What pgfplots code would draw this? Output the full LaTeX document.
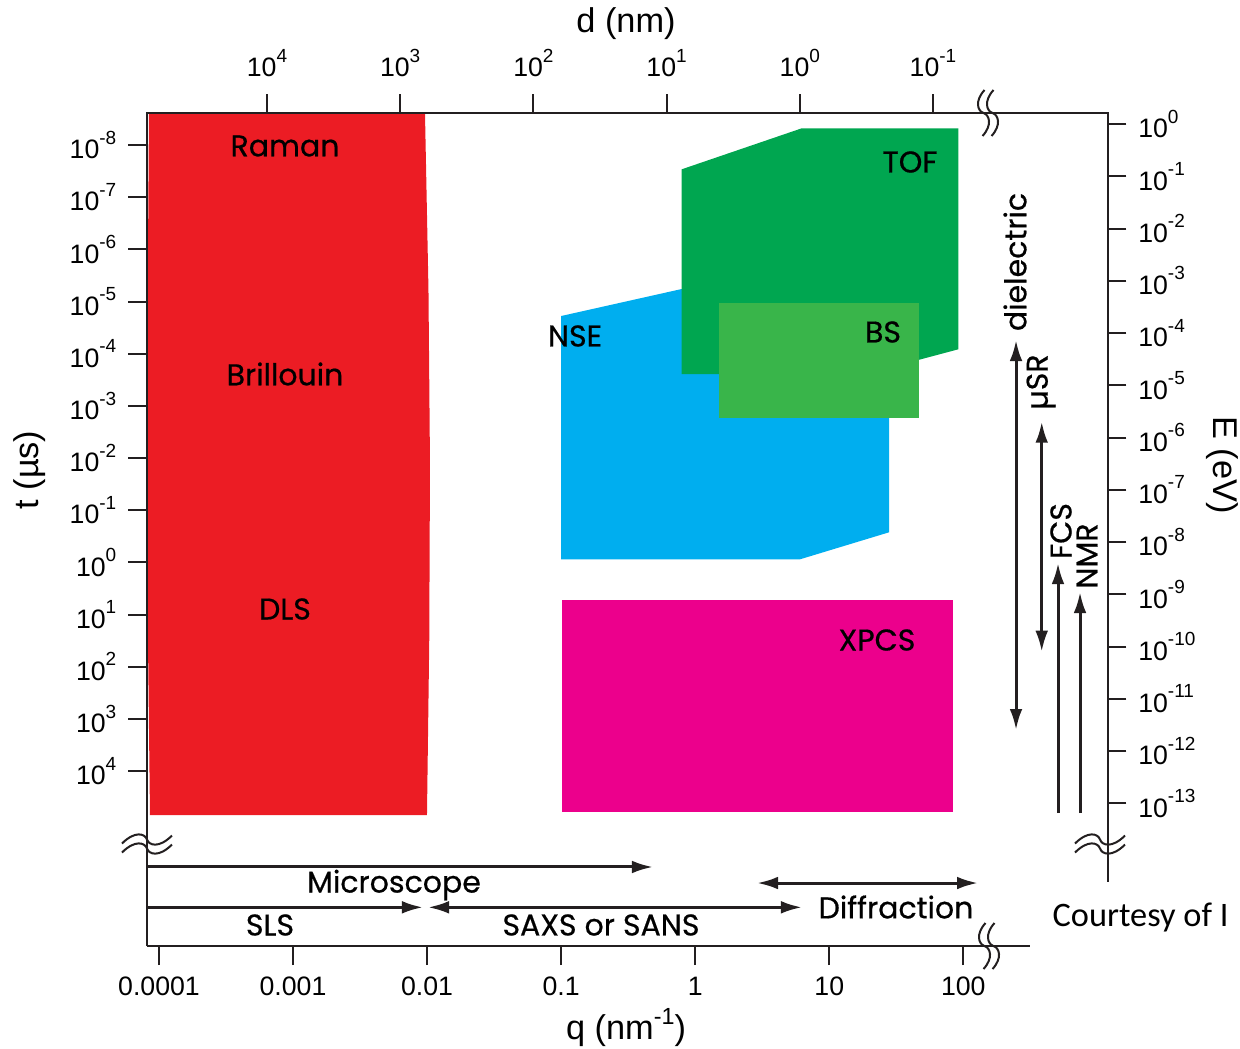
\documentclass[border=0pt]{standalone}
\usepackage{pgfplots}
\pgfplotsset{compat=1.18}
\usetikzlibrary{arrows.meta}
\usepackage{fontspec}
\setmainfont{Liberation Sans}
\newfontfamily\comic{Poppins}[FakeBold=0.6]
\newfontfamily\calib{Carlito}
\definecolor{redR}{HTML}{EC1C24}
\definecolor{tofG}{HTML}{00A650}
\definecolor{bsG}{HTML}{39B54A}
\definecolor{nseB}{HTML}{00AEEF}
\definecolor{xpcsM}{HTML}{EC008C}
\definecolor{ink}{HTML}{231F20}
\newcommand{\tl}[1]{10\raisebox{4.4pt}{\fontsize{5.7}{6.5}\selectfont #1}}
\newcommand{\tfont}{\fontsize{8}{9.5}\selectfont}
\newcommand{\lfont}{\fontsize{10.3}{12}\selectfont}
\newcommand{\cfont}{\fontsize{9}{11}\selectfont\comic}
\tikzset{arr/.style={ink, line width=0.9pt, -{Latex[length=6.3pt,width=3.8pt]}},
         darr/.style={ink, line width=0.9pt, {Latex[length=6.3pt,width=3.8pt]}-{Latex[length=6.3pt,width=3.8pt]}}}
\begin{document}
\begin{tikzpicture}
\useasboundingbox (-44.1pt,-30.6pt) rectangle (327.9pt,283.8pt);
% main axis: q (bottom), t (left)
\begin{axis}[
  at={(0,0)}, anchor=south west, scale only axis,
  width=288.15pt, height=249.9pt,
  xmode=log, ymode=log, y dir=reverse,
  xmin=8.14e-5, xmax=1190, ymin=2.435e-9, ymax=2.257e7,
  axis line style={draw=none},
  xtick={1e-4,1e-3,1e-2,1e-1,1,10,100},
  xticklabels={0.0001,0.001,0.01,0.1,1,10,100},
  ytick={1e-8,1e-7,1e-6,1e-5,1e-4,1e-3,1e-2,1e-1,1,10,100,1000,10000},
  yticklabels={\tl{-8},\tl{-7},\tl{-6},\tl{-5},\tl{-4},\tl{-3},\tl{-2},\tl{-1},\tl{0},\tl{1},\tl{2},\tl{3},\tl{4}},
  xtick pos=left, ytick pos=left,
  xminorticks=false, yminorticks=false,
  tick align=outside, major tick length=5.7pt,
  tick style={color=ink, line width=0.6pt},
  tick label style={font=\tfont},
  clip=false,
]
% NSE
\addplot[fill=nseB, draw=none] coordinates {(0.1,1.895e-5) (0.7931,5.756e-6) (27.91,9.36e-6) (27.91,0.2653) (6.05,0.8735) (0.1,0.8735)} -- cycle;
% TOF
\addplot[fill=tofG, draw=none] coordinates {(0.7931,2.922e-8) (6.230,4.785e-9) (91.77,4.785e-9) (91.77,8.241e-5) (1.505,1.372e-3) (1.505,2.452e-4) (0.7931,2.452e-4)} -- cycle;
% BS
\addplot[fill=bsG, draw=none] coordinates {(1.505,1.054e-5) (46.97,1.054e-5) (46.97,1.688e-3) (1.505,1.688e-3)} -- cycle;
% XPCS
\addplot[fill=xpcsM, draw=none] coordinates {(0.1015,5.266) (83.8,5.266) (83.8,6.096e4) (0.1015,6.096e4)} -- cycle;
% light scattering (Raman, Brillouin, DLS)
\addplot[fill=redR, draw=none] coordinates {(8.42e-5,2.435e-9) (8.25e-5,6.016e-6) (8.21e-5,0.01302) (8.28e-5,30.77) (8.57e-5,6.961e4) (9.98e-3,6.961e4) (1.038e-2,30.77) (1.051e-2,0.01302) (1.024e-2,6.016e-6) (9.645e-3,2.435e-9)} -- cycle;
% right-side techniques
\addplot[darr] coordinates {(247.3,5.466e-5) (247.3,1634)};
\addplot[darr] coordinates {(384.6,2.012e-3) (384.6,51.6)};
\addplot[arr] coordinates {(508.6,6.374e4) (508.6,1.029)};
\addplot[arr] coordinates {(742.3,6.374e4) (742.3,3.70)};
% bottom techniques
\addplot[arr] coordinates {(8.14e-5,6.9e5) (0.4843,6.9e5)};
\addplot[arr] coordinates {(8.14e-5,4.09e6) (9.32e-3,4.09e6)};
\addplot[darr] coordinates {(0.01016,4.09e6) (6.26,4.09e6)};
\addplot[darr] coordinates {(2.891,1.40e6) (128.8,1.40e6)};
\end{axis}
% secondary axis: d (top), E (right)
\begin{axis}[
  at={(0,0)}, anchor=south west, scale only axis,
  width=288.15pt, height=249.9pt,
  xmode=log, ymode=log, x dir=reverse,
  xmin=4.897e-3, xmax=7.959e4, ymin=1.854e-16, ymax=1.624,
  axis line style={draw=none},
  xtick={1e-1,1,10,100,1000,10000},
  xticklabels={\tl{-1},\tl{0},\tl{1},\tl{2},\tl{3},\tl{4}},
  ytick={1e-13,1e-12,1e-11,1e-10,1e-9,1e-8,1e-7,1e-6,1e-5,1e-4,1e-3,1e-2,1e-1,1},
  yticklabels={\tl{-13},\tl{-12},\tl{-11},\tl{-10},\tl{-9},\tl{-8},\tl{-7},\tl{-6},\tl{-5},\tl{-4},\tl{-3},\tl{-2},\tl{-1},\tl{0}},
  xtick pos=right, ytick pos=right, xticklabel pos=right, yticklabel pos=right,
  xminorticks=false, yminorticks=false,
  tick align=outside, major tick length=5.7pt,
  tick style={color=ink, line width=0.6pt},
  tick label style={font=\tfont},
  xticklabel style={yshift=1.5pt},
  clip=false,
]
\end{axis}
\begin{scope}[x=0.3pt,y=-0.3pt,shift={(-44.1pt,283.8pt)}]
\draw[ink, line width=0.6pt] (147,946) -- (147,113) -- (1107.5,113) -- (1107.5,882);
\draw[ink, line width=0.6pt] (147,946) -- (1030,946);
% axis break marks
\foreach \cx/\cy in {988/113, 989/946}{
  \foreach \d in {-4.5,4.5}{
    \draw[ink, line width=0.6pt] ({\cx+\d+1},{\cy-23}) .. controls ({\cx+\d-9},{\cy-12}) and ({\cx+\d-6},{\cy-2}) .. ({\cx+\d},{\cy}) .. controls ({\cx+\d+6},{\cy+2}) and ({\cx+\d+9},{\cy+12}) .. ({\cx+\d-1},{\cy+23});
  }}
\foreach \cx/\cy in {147/844, 1100/844}{
  \foreach \d in {-4.5,4.5}{
    \draw[ink, line width=0.6pt] ({\cx-25},{\cy+\d+4}) .. controls ({\cx-12},{\cy+\d-9}) and ({\cx-2},{\cy+\d-6}) .. ({\cx},{\cy+\d}) .. controls ({\cx+2},{\cy+\d+6}) and ({\cx+12},{\cy+\d+9}) .. ({\cx+25},{\cy+\d-4});
  }}
% region labels
\node[font=\cfont] at (285,146) {Raman};
\node[font=\cfont] at (285,374) {Brillouin};
\node[font=\cfont] at (285,609) {DLS};
\node[font=\cfont] at (910,162) {TOF};
\node[font=\cfont] at (883,332) {BS};
\node[font=\cfont] at (575,336) {NSE};
\node[font=\cfont] at (877,640) {XPCS};
\node[font=\cfont] at (394,885) {Microscope};
\node[font=\cfont] at (270,925) {SLS};
\node[font=\cfont] at (601,925) {SAXS or SANS};
\node[font=\cfont] at (896,907) {Diffraction};
\node[font=\cfont, rotate=90] at (1015,262) {dielectric};
\node[font=\cfont, rotate=90] at (1041,382) {µSR};
\node[font=\cfont, rotate=90] at (1061,531) {FCS};
\node[font=\cfont, rotate=90] at (1087,556) {NMR};
% axis titles
\node[font=\lfont] at (626,24) {d (nm)};
\node[font=\lfont] at (626,1028) {q (nm\raisebox{4.5pt}{\fontsize{7}{8}\selectfont -1})};
\node[font=\lfont, rotate=90] at (30,470) {t (µs)};
\node[font=\lfont, rotate=-90] at (1222,465) {E (eV)};
\node[font=\fontsize{10.3}{12}\selectfont\calib, anchor=west, inner sep=0pt] at (1052,917) {Courtesy of I};
\end{scope}
\end{tikzpicture}
\end{document}
